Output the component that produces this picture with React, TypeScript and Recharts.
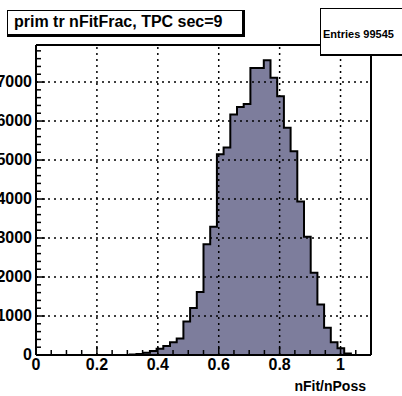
import React from "react"
import { ComposedChart, Area, XAxis, YAxis, ReferenceLine } from "recharts"

// histogram: 50 bins between 0 and 1.1
const xMin = 0
const xMax = 1.1
const binWidth = 0.022
const counts = [
  0, 0, 0, 0, 0, 0, 0, 0, 0, 0,
  0, 0, 0, 0, 10, 25, 56, 103, 159, 231,
  328, 423, 859, 1205, 1615, 2841, 3287, 5149, 5321, 6167,
  6359, 6436, 7359, 7359, 7559, 7108, 6636, 5826, 5226, 3936,
  3031, 2108, 1295, 697, 325, 170, 40, 0, 0, 0,
]
const yMax = 7950

const xTicks = [0, 0.05, 0.1, 0.15, 0.2, 0.25, 0.3, 0.35, 0.4, 0.45, 0.5, 0.55, 0.6, 0.65, 0.7, 0.75, 0.8, 0.85, 0.9, 0.95, 1, 1.05, 1.1]
const xMajor = [0, 0.2, 0.4, 0.6, 0.8, 1]
const xLabels = ["0", "0.2", "0.4", "0.6", "0.8", "1"]
const yTicks = [
  0, 200, 400, 600, 800, 1000, 1200, 1400, 1600, 1800, 2000, 2200, 2400, 2600, 2800, 3000, 3200, 3400, 3600, 3800,
  4000, 4200, 4400, 4600, 4800, 5000, 5200, 5400, 5600, 5800, 6000, 6200, 6400, 6600, 6800, 7000, 7200, 7400, 7600, 7800,
]
const yMajor = [0, 1000, 2000, 3000, 4000, 5000, 6000, 7000]
const yGrid = [1000, 2000, 3000, 4000, 5000, 6000, 7000]
const xGrid = [0.2, 0.4, 0.6, 0.8, 1]

const title = "prim tr nFitFrac, TPC sec=9"
const statsText = "Entries 99545"
const xTitle = "nFit/nPoss"

const data = counts
  .map((c, i) => ({ x: xMin + i * binWidth, count: c }))
  .concat([{ x: xMax, count: 0 }])

const font = "'Liberation Sans', Arial, Helvetica, sans-serif"
const fill = "#7d7d9c"

const near = (a: number, list: number[]) => list.findIndex((v) => Math.abs(v - a) < 1e-6)

const XTick = (props: any) => {
  const { x, y, payload } = props
  const idx = near(payload.value, xMajor)
  return (
    <g>
      <line x1={x} x2={x} y1={y} y2={y - (idx >= 0 ? 9 : 5)} stroke="#000" strokeWidth={1.5} />
      {idx >= 0 && (
        <text x={x} y={y + 14.5} textAnchor="middle" fontFamily={font} fontWeight="bold" fontSize={16} fill="#000">
          {xLabels[idx]}
        </text>
      )}
    </g>
  )
}

const YTick = (props: any) => {
  const { x, y, payload } = props
  const major = near(payload.value, yMajor) >= 0
  return (
    <g>
      <line x1={x} x2={x + (major ? 9 : 5)} y1={y} y2={y} stroke="#000" strokeWidth={1.5} />
      {major && (
        <text x={x - 4} y={y + 5} textAnchor="end" fontFamily={font} fontWeight="bold" fontSize={16} fill="#000">
          {payload.value}
        </text>
      )}
    </g>
  )
}

export default function App() {
  return (
    <div style={{ position: "absolute", left: 0, top: 0, width: 402, height: 396, background: "#fff", overflow: "hidden" }}>
      <ComposedChart width={402} height={396} data={data} margin={{ top: 45, right: 31, left: 0, bottom: 0 }}>
        {xGrid.map((v) => (
          <ReferenceLine key={`gx-${v}`} x={v} stroke="#000" strokeWidth={1.5} strokeDasharray="2 4" />
        ))}
        {yGrid.map((v) => (
          <ReferenceLine key={`gy-${v}`} y={v} stroke="#000" strokeWidth={1.5} strokeDasharray="2 4" />
        ))}
        <XAxis
          type="number"
          dataKey="x"
          domain={[xMin, xMax]}
          ticks={xTicks}
          interval={0}
          allowDataOverflow
          tickLine={false}
          tickSize={0}
          tickMargin={0}
          tick={(p: any) => <XTick {...p} />}
          axisLine={{ stroke: "#000", strokeWidth: 2 }}
          height={41}
        />
        <YAxis
          type="number"
          domain={[0, yMax]}
          ticks={yTicks}
          interval={0}
          allowDataOverflow
          tickLine={false}
          tickSize={0}
          tickMargin={0}
          tick={(p: any) => <YTick {...p} />}
          axisLine={{ stroke: "#000", strokeWidth: 2 }}
          width={36}
        />
        <Area
          type="stepAfter"
          dataKey="count"
          stroke="#000"
          strokeWidth={2}
          fill={fill}
          fillOpacity={1}
          isAnimationActive={false}
          dot={false}
          activeDot={false}
        />
        <ReferenceLine y={yMax} stroke="#000" strokeWidth={2} />
        <ReferenceLine x={xMax} stroke="#000" strokeWidth={2} />
      </ComposedChart>

      <div
        style={{
          position: "absolute",
          left: 7,
          top: 10,
          width: 238,
          height: 27,
          boxSizing: "border-box",
          borderTop: "1.5px solid #000",
          borderLeft: "1px solid #000",
          borderRight: "3px solid #000",
          borderBottom: "3px solid #000",
          background: "#fff",
          fontFamily: font,
          fontWeight: "bold",
          fontSize: 16,
          lineHeight: "22px",
          paddingLeft: 6,
          whiteSpace: "nowrap",
        }}
      >
        {title}
      </div>

      <div
        style={{
          position: "absolute",
          left: 320,
          top: 8,
          width: 100,
          height: 48,
          boxSizing: "border-box",
          borderTop: "1.5px solid #000",
          borderLeft: "1.5px solid #000",
          borderBottom: "2.5px solid #000",
          background: "#fff",
          fontFamily: font,
          fontWeight: "bold",
          fontSize: 11,
          lineHeight: "46px",
          paddingLeft: 2,
          whiteSpace: "nowrap",
          paddingTop: 2,
        }}
      >
        {statsText}
      </div>

      <div
        style={{
          position: "absolute",
          right: 36,
          top: 378,
          fontFamily: font,
          fontWeight: "bold",
          fontSize: 14,
          lineHeight: "16px",
          whiteSpace: "nowrap",
        }}
      >
        {xTitle}
      </div>
    </div>
  )
}
